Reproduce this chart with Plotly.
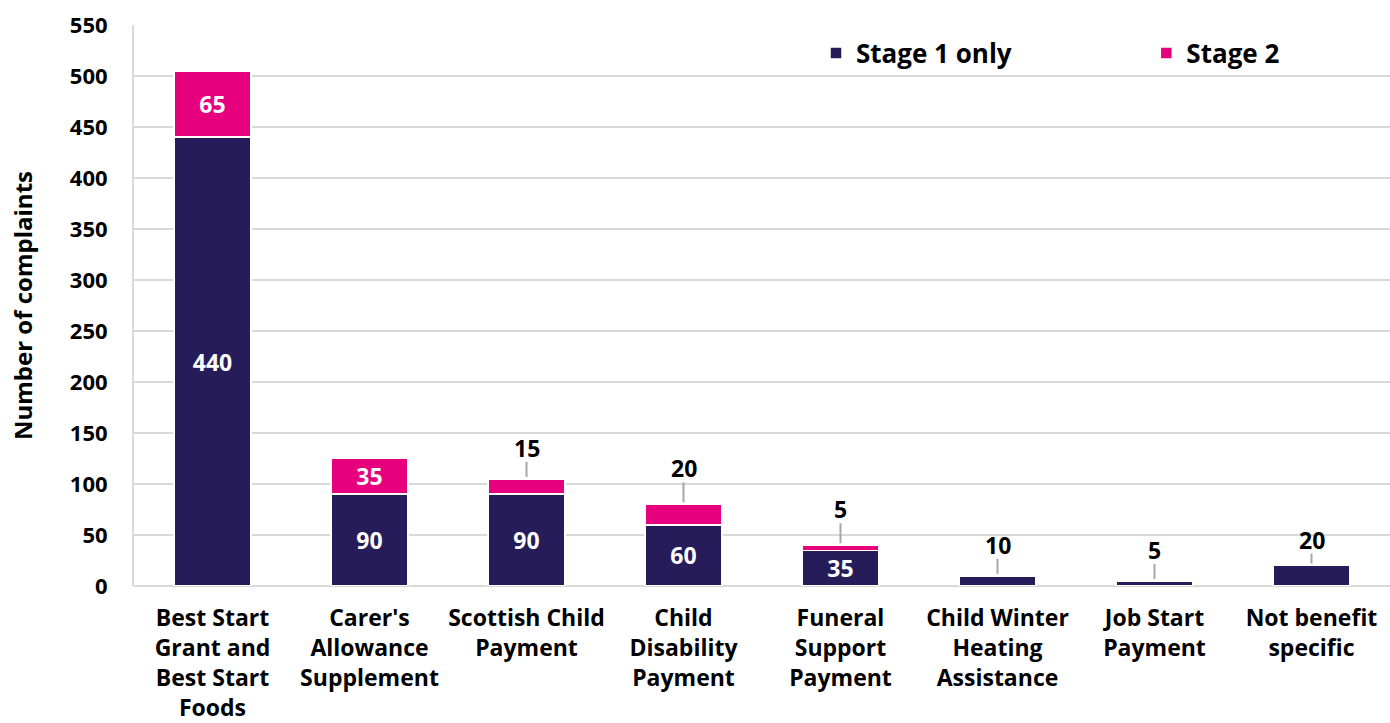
import plotly.graph_objects as go

categories = [
    "Best Start<br>Grant and<br>Best Start<br>Foods",
    "Carer's<br>Allowance<br>Supplement",
    "Scottish Child<br>Payment",
    "Child<br>Disability<br>Payment",
    "Funeral<br>Support<br>Payment",
    "Child Winter<br>Heating<br>Assistance",
    "Job Start<br>Payment",
    "Not benefit<br>specific",
]
stage1_only = [440, 90, 90, 60, 35, 10, 5, 20]
stage2 = [65, 35, 15, 20, 5, 0, 0, 0]

NAVY = "#261C5A"
PINK = "#E6007E"
FONT = "Open Sans"
MIN_INSIDE = 30  # segments smaller than this get an external label with a leader line

def inside_text(vals):
    return [str(v) if v >= MIN_INSIDE else "" for v in vals]

bar_text_font = dict(family=FONT, size=23, color="white", weight="bold")

fig = go.Figure()
fig.add_bar(
    x=categories, y=stage1_only, name="Stage 1 only", legend="legend",
    marker=dict(color=NAVY, line=dict(color="white", width=1.5)),
    text=inside_text(stage1_only), textposition="inside", textangle=0,
    insidetextanchor="middle", constraintext="none",
    textfont=bar_text_font, hoverinfo="skip",
)
fig.add_bar(
    x=categories, y=stage2, name="Stage 2", legend="legend2",
    marker=dict(color=PINK, line=dict(color="white", width=1.5)),
    text=inside_text(stage2), textposition="inside", textangle=0,
    insidetextanchor="middle", constraintext="none",
    textfont=bar_text_font, hoverinfo="skip",
)

# external labels for the thin segments: a grey leader line (pixel length)
# anchored at the bar top, with the value printed just above it
leader_len = [15, 15, 15, 20, 20, 15, 15, 10]
for i, cat in enumerate(categories):
    total = stage1_only[i] + stage2[i]
    if 0 < stage2[i] < MIN_INSIDE:
        label = stage2[i]
    elif stage2[i] == 0 and 0 < stage1_only[i] < MIN_INSIDE:
        label = stage1_only[i]
    else:
        continue
    fig.add_shape(
        type="line", xref="x", yref="y", x0=cat, x1=cat,
        ysizemode="pixel", yanchor=total, y0=2, y1=2 + leader_len[i],
        line=dict(color="#A6A6A6", width=2),
    )
    fig.add_annotation(
        x=cat, y=total, text=str(label), showarrow=False,
        yanchor="bottom", yshift=leader_len[i] - 2,
        font=dict(family=FONT, size=23, color="black", weight="bold"),
    )

legend_style = dict(
    orientation="h", y=0.950, xanchor="left", yanchor="middle",
    font=dict(family=FONT, size=26, color="black", weight="bold"),
    itemwidth=30, bgcolor="rgba(0,0,0,0)",
)

fig.update_layout(
    barmode="stack",
    bargap=0.51,
    width=1390, height=723,
    margin=dict(l=134, r=0, t=25, b=137, autoexpand=False),
    plot_bgcolor="white", paper_bgcolor="white",
    font=dict(family=FONT, color="black"),
    showlegend=True,
    legend=dict(x=0.543, **legend_style),
    legend2=dict(x=0.806, **legend_style),
    yaxis=dict(
        range=[0, 550], dtick=50, automargin=False,
        showgrid=True, gridcolor="#D9D9D9", gridwidth=2,
        zeroline=True, zerolinecolor="#D9D9D9", zerolinewidth=2,
        showline=True, linecolor="#D9D9D9", linewidth=2,
        ticks="", ticklabelstandoff=20,
        tickfont=dict(family=FONT, size=22, color="black", weight="bold"),
        title=dict(text="Number of complaints", standoff=30,
                   font=dict(family=FONT, size=24, color="black", weight="bold")),
    ),
    xaxis=dict(
        showgrid=False, showline=False, ticks="", ticklabelstandoff=16,
        automargin=False,
        tickfont=dict(family=FONT, size=23, color="black", weight="bold"),
        tickangle=0,
    ),
)

fig.write_html("out.html")
